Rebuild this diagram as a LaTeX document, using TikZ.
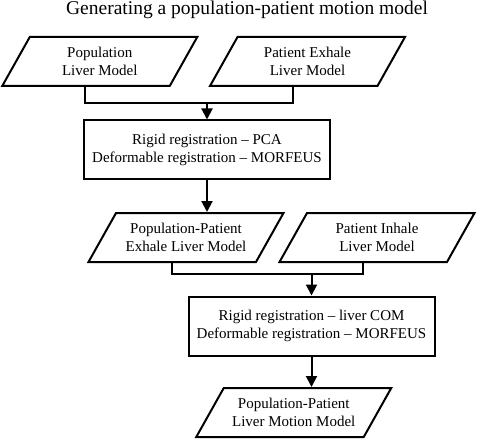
\documentclass[tikz,border=0pt]{standalone}
\usepackage{fontspec}
\setmainfont{Liberation Serif}
\usetikzlibrary{shapes.geometric,arrows.meta}
\begin{document}
\begin{tikzpicture}[x=1pt,y=-1pt,line width=2pt,
    data/.style={draw,trapezium,trapezium left angle=52,trapezium right angle=128,
      trapezium stretches body,minimum width=195pt,minimum height=49pt,
      inner xsep=0pt,align=center,font=\fontsize{15}{18}\selectfont},
    proc/.style={draw,rectangle,minimum width=246pt,minimum height=59pt,
      align=center,font=\fontsize{15}{18}\selectfont},
    flow/.style={-{Triangle[length=11pt,width=11pt]}}]
  \useasboundingbox (0,0) rectangle (478,438);
  \node[anchor=base,inner sep=0pt] (title) at (247,15) {\fontsize{19.5}{24}\selectfont Generating a population-patient motion model};
  \draw
    (99.75,61.5) node[data] (pop){Population\\Liver Model}
    (307.5,61.5) node[data] (patex){Patient Exhale\\Liver Model}
    (207,150) node[proc] (reg1){Rigid registration -- PCA\\Deformable registration -- MORFEUS}
    (186,237.5) node[data] (popex){Population-Patient\\Exhale Liver Model}
    (377,237.5) node[data] (patin){Patient Inhale\\Liver Model}
    (311.5,326) node[proc] (reg2){Rigid registration -- liver COM\\Deformable registration -- MORFEUS}
    (293.75,412.5) node[data] (motion){Population-Patient\\Liver Motion Model};
  \coordinate (j1) at (207,103);
  \coordinate (j2) at (311.5,274);
  \begin{scope}[-]
    \draw (pop.bottom side) |- (j1) -| (patex.bottom side);
    \draw (popex.bottom side) |- (j2) -| (patin.bottom side);
  \end{scope}
  \draw[flow] (j1) to (reg1);
  \draw[flow] (reg1) to (reg1.south |- popex.top side);
  \draw[flow] (j2) to (reg2);
  \draw[flow] (reg2) to (reg2.south |- motion.top side);
\end{tikzpicture}
\end{document}
